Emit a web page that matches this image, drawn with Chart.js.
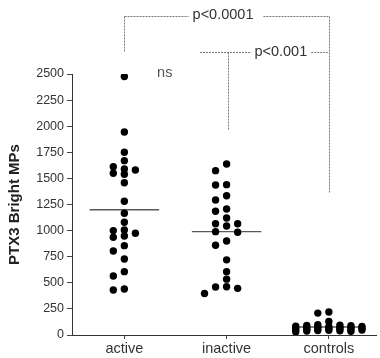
<!DOCTYPE html>
<html>
<head>
<meta charset="utf-8">
<script src="https://cdn.jsdelivr.net/npm/chart.js@4/dist/chart.umd.min.js"></script>
<style>
  html, body { margin: 0; padding: 0; background: #fff; }
  #wrap { width: 380px; height: 358px; position: relative; }
</style>
</head>
<body>
<div id="wrap"><canvas id="c"></canvas></div>
<script>
// ---- data ----
const categories = ['active', 'inactive', 'controls'];
const active = [2475, 1945, 1750, 1670, 1612, 1590, 1580, 1549, 1540, 1459, 1281, 1166, 1080,
                1006, 1000, 974, 948, 936, 856, 805, 728, 607, 565, 441, 431];
const inactive = [1638, 1574, 1440, 1437, 1334, 1293, 1207, 1185, 1121, 1065, 1065, 1044,
                  990, 984, 900, 860, 720, 607, 535, 462, 460, 447, 397];
const controls = [220, 210, 130, 98, 95, 92, 90, 85, 82, 80, 78, 75, 72, 70, 68, 65, 62, 60,
                  58, 55, 52, 50, 48, 45, 42, 40, 38, 35, 30];
const yTicks = [0, 250, 500, 750, 1000, 1250, 1500, 1750, 2000, 2250, 2500];
const yTitle = 'PTX3 Bright MPs';
const pLabels = ['p<0.0001', 'p<0.001'];
const nsLabel = 'ns';
// bracket leg ends (data values)
const legEnds = { controlsLeg: 1360, inactiveLeg: 1964 };

const groups = [active, inactive, controls];

// ---- simple beeswarm: spread equal-ish values into side columns ----
function swarm(values, gap, maxCol) {
  const placed = [];
  const cols = new Array(values.length);
  const cand = [0];
  for (let k = 1; k <= maxCol; k++) cand.push(-k, k);
  const order = values.map((v, i) => i).sort((a, b) => values[b] - values[a]);
  order.forEach(i => {
    const v = values[i];
    let best = 0, bestD = -1;
    for (const c of cand) {
      const ds = placed.filter(p => p.c === c).map(p => Math.abs(p.v - v));
      const d = ds.length ? Math.min(...ds) : Infinity;
      if (d >= gap) { best = c; break; }
      if (d > bestD) { bestD = d; best = c; }
    }
    cols[i] = best;
    placed.push({ v, c: best });
  });
  return cols;
}
const COL_STEP = 0.108;
const maxCols = [1, 2, 3];
const scatterSets = groups.map((vals, gi) => {
  const cols = swarm(vals, 70, maxCols[gi]);
  return {
    type: 'scatter',
    data: vals.map((v, i) => ({ x: gi + cols[i] * COL_STEP, y: v })),
    pointRadius: 3.7,
    pointHoverRadius: 3.7,
    pointStyle: 'circle',
    backgroundColor: '#000',
    borderWidth: 0,
    order: 1
  };
});
const meanSets = groups.map((vals, gi) => {
  const m = vals.reduce((a, b) => a + b, 0) / vals.length;
  return {
    type: 'line',
    data: [{ x: gi - 0.34, y: m }, { x: gi + 0.34, y: m }],
    borderColor: '#5a5a5a',
    borderWidth: 1.3,
    pointRadius: 0,
    order: 2
  };
});

const FONT = 'Liberation Sans, Arial, Helvetica, sans-serif';

const annot = {
  id: 'annot',
  afterDraw(chart) {
    const ctx = chart.ctx;
    const x = chart.scales.x, y = chart.scales.y;
    const top = chart.chartArea.top;
    ctx.save();
    ctx.strokeStyle = '#777';
    ctx.lineWidth = 1;
    ctx.setLineDash([2, 1]);
    ctx.font = '14.5px ' + FONT;
    ctx.fillStyle = '#333';
    ctx.textBaseline = 'middle';
    ctx.textAlign = 'center';
    const xa = Math.round(x.getPixelForValue(0)) + 0.5;
    const xi = Math.round(x.getPixelForValue(1)) + 1.5;
    const xc = Math.round(x.getPixelForValue(2)) + 0.5;
    function hseg(x1, x2, yy) { ctx.beginPath(); ctx.moveTo(x1, yy); ctx.lineTo(x2, yy); ctx.stroke(); }
    function vseg(xx, y1, y2) { ctx.beginPath(); ctx.moveTo(xx, y1); ctx.lineTo(xx, y2); ctx.stroke(); }
    // bracket 1: active vs controls
    const y1 = top - 57.5;
    const t1x = x.getPixelForValue(0.965);
    const w1 = ctx.measureText(pLabels[0]).width;
    hseg(xa, t1x - w1 / 2 - 4, y1);
    hseg(t1x + w1 / 2 + 10, xc, y1);
    vseg(xa, y1, top - 22);
    vseg(xc, y1, y.getPixelForValue(legEnds.controlsLeg));
    ctx.fillText(pLabels[0], t1x, y1 - 2);
    // bracket 2: inactive vs controls
    const y2 = top - 21.5;
    const t2x = x.getPixelForValue(1.53);
    const w2 = ctx.measureText(pLabels[1]).width;
    hseg(x.getPixelForValue(0.74), t2x - w2 / 2 - 3, y2);
    hseg(t2x + w2 / 2 + 4, xc - 1, y2);
    vseg(xi, y2, y.getPixelForValue(legEnds.inactiveLeg));
    ctx.fillText(pLabels[1], t2x, y2 - 1);
    // ns
    ctx.textAlign = 'left';
    ctx.fillStyle = '#555';
    ctx.fillText(nsLabel, x.getPixelForValue(0.32), top - 1.5);
    ctx.restore();
  }
};

new Chart(document.getElementById('c'), {
  type: 'scatter',
  data: { datasets: [...scatterSets, ...meanSets] },
  options: {
    responsive: true,
    maintainAspectRatio: false,
    devicePixelRatio: 1,
    animation: false,
    events: [],
    layout: { padding: { top: 74, right: 0, bottom: 0, left: 0 } },
    plugins: { legend: { display: false }, tooltip: { enabled: false } },
    scales: {
      x: {
        type: 'linear',
        min: -0.512,
        max: 2.464,
        afterBuildTicks: s => { s.ticks = categories.map((c, i) => ({ value: i })); },
        afterFit: s => { s.height = 23; },
        ticks: {
          callback: v => categories[v],
          autoSkip: false,
          maxRotation: 0,
          padding: 1,
          color: '#333',
          font: { family: FONT, size: 14.5 }
        },
        grid: { display: true, drawOnChartArea: false, tickLength: 4, color: '#444' },
        border: { display: true, color: '#333', width: 1 }
      },
      y: {
        min: 0,
        max: 2500,
        afterBuildTicks: s => { s.ticks = yTicks.map(v => ({ value: v })); },
        afterFit: s => { s.width = 72; },
        ticks: {
          callback: v => String(v),
          padding: 3,
          color: '#333',
          font: { family: FONT, size: 12.5 }
        },
        grid: { display: true, drawOnChartArea: false, tickLength: 5, color: '#444' },
        border: { display: true, color: '#333', width: 1 },
        title: {
          display: true,
          text: yTitle,
          color: '#222',
          font: { family: FONT, size: 15, weight: 'bold' },
          padding: { top: 6, bottom: 0 }
        }
      }
    }
  },
  plugins: [annot]
});
</script>
</body>
</html>
